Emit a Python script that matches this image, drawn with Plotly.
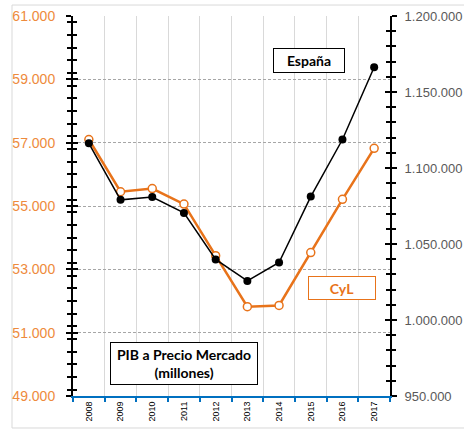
import plotly.graph_objects as go

years = ["2008", "2009", "2010", "2011", "2012", "2013", "2014", "2015", "2016", "2017"]
cyl = [57100, 55450, 55550, 55060, 53430, 51820, 51860, 53530, 55210, 56820]
espana = [1116225, 1079052, 1080935, 1070449, 1039815, 1025693, 1037820, 1081190, 1118743, 1166319]

ORANGE = "#E8731A"
ORANGE_TXT = "#EE8A3C"
BLUE = "#0070C0"

fig = go.Figure()
fig.add_trace(go.Scatter(
    x=years, y=cyl, name="CyL", yaxis="y", mode="lines+markers",
    line=dict(color=ORANGE, width=2.5),
    marker=dict(symbol="circle", size=8, color="white", line=dict(color=ORANGE, width=1.5)),
))
fig.add_trace(go.Scatter(
    x=years, y=espana, name="España", yaxis="y2", mode="lines+markers",
    line=dict(color="black", width=1.5),
    marker=dict(symbol="circle", size=8, color="black"),
))

axfont = dict(family="Liberation Sans, Arial, sans-serif", size=14)

fig.update_layout(
    width=464, height=429,
    margin=dict(l=73, r=74, t=16, b=33),
    paper_bgcolor="white", plot_bgcolor="white",
    separators=",.",
    showlegend=False,
    xaxis=dict(
        type="category", tickson="boundaries", showgrid=True, gridcolor="#D9D9D9", gridwidth=1,
        showline=True, linecolor=BLUE, linewidth=2, ticks="outside", tickcolor=BLUE, ticklen=4,
        tickwidth=1.5, tickangle=-90,
        tickfont=dict(family="Liberation Sans, Arial, sans-serif", size=9, color="black"),
        automargin=False, range=[-0.5, 9.5],
    ),
    yaxis=dict(
        range=[49000, 61000], dtick=2000, tick0=49000, tickformat=",.0f",
        showline=True, linecolor="black", linewidth=2, ticks="outside", ticklen=5, tickcolor="black",
        tickwidth=1.5,
        minor=dict(dtick=400, ticks="outside", ticklen=4, tickcolor="black", tickwidth=1.5, showgrid=False),
        showgrid=True, gridcolor="#A6A6A6", griddash="3px,2px", gridwidth=1,
        tickfont=dict(color=ORANGE_TXT, **axfont), ticklabelstandoff=8,
        zeroline=False, automargin=False,
    ),
    yaxis3=dict(
        range=[49000, 61000], dtick=2000, tick0=49000, overlaying="y", side="left",
        showticklabels=False, showgrid=False, zeroline=False, ticks="inside", ticklen=5,
        tickcolor="black", tickwidth=1.5,
        minor=dict(dtick=400, ticks="inside", ticklen=4, tickcolor="black", tickwidth=1.5, showgrid=False),
        automargin=False,
    ),
    yaxis2=dict(
        range=[950000, 1200000], dtick=50000, tick0=950000, tickformat=",.0f",
        overlaying="y", side="right",
        showline=True, linecolor="black", linewidth=2, ticks="outside", ticklen=5, tickcolor="black",
        tickwidth=1.5,
        minor=dict(dtick=10000, ticks="outside", ticklen=4, tickcolor="black", tickwidth=1.5, showgrid=False),
        showgrid=False, zeroline=False,
        tickfont=dict(color="#595959", family="Liberation Sans, Arial, sans-serif", size=13),
        ticklabelstandoff=5,
        automargin=False,
    ),
    yaxis4=dict(
        range=[950000, 1200000], dtick=50000, tick0=950000, overlaying="y", side="right",
        showticklabels=False, showgrid=False, zeroline=False, ticks="inside", ticklen=5,
        tickcolor="black", tickwidth=1.5,
        minor=dict(dtick=10000, ticks="inside", ticklen=4, tickcolor="black", tickwidth=1.5, showgrid=False),
        automargin=False,
    ),
)

# dummy traces to activate the inside-tick overlay axes
fig.add_trace(go.Scatter(x=[years[0]], y=[None], yaxis="y3", showlegend=False, hoverinfo="skip"))
fig.add_trace(go.Scatter(x=[years[0]], y=[None], yaxis="y4", showlegend=False, hoverinfo="skip"))

boxfont = dict(family="Lato, Open Sans, sans-serif", size=14)
fig.add_annotation(
    x=0.746, y=0.884, xref="paper", yref="paper", text="<b>España</b>", showarrow=False,
    font=dict(color="black", **boxfont), bgcolor="white", bordercolor="black", borderwidth=1,
    width=68, height=21, borderpad=1, xanchor="center", yanchor="middle",
)
fig.add_annotation(
    x=0.850, y=0.283, xref="paper", yref="paper", text="<b>CyL</b>", showarrow=False,
    font=dict(color=ORANGE, **boxfont), bgcolor="white", bordercolor=ORANGE, borderwidth=1,
    width=64, height=20, borderpad=1, xanchor="center", yanchor="middle",
)
fig.add_annotation(
    x=0.3486, y=0.0868, xref="paper", yref="paper",
    text="<b>PIB a Precio Mercado<br>(millones)</b>", showarrow=False,
    font=dict(color="black", **boxfont), bgcolor="white", bordercolor="black", borderwidth=1,
    width=144, height=39, borderpad=1, xanchor="center", yanchor="middle",
)

fig.add_shape(
    type="rect", xref="paper", yref="paper", x0=-0.1924, x1=1.26, y0=-0.0842, y1=1.0289,
    line=dict(color="#D9D9D9", width=1), fillcolor="rgba(0,0,0,0)", layer="below",
)

fig.write_html(
    "out.html",
    config={"displayModeBar": False},
    post_script="document.body.style.margin='0';document.body.style.overflow='hidden';",
)
